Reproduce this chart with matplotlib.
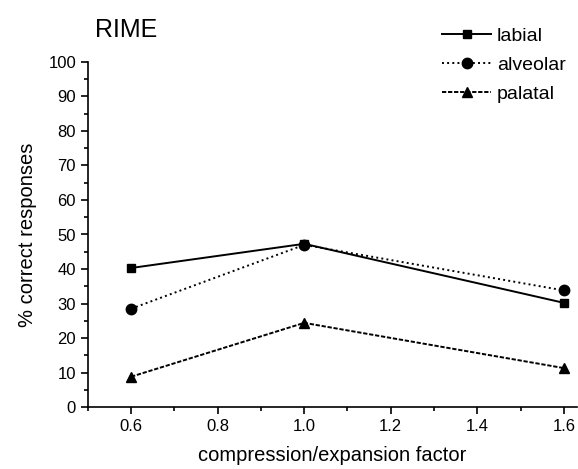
import matplotlib
matplotlib.use("Agg")
import matplotlib.pyplot as plt
from matplotlib.ticker import MultipleLocator

factors = [0.6, 1.0, 1.6]
labial = [40.3, 47.3, 30.2]
alveolar = [28.5, 47.0, 33.8]
palatal = [8.8, 24.4, 11.3]

plt.rcParams['font.family'] = ['Liberation Sans', 'DejaVu Sans']

fig = plt.figure(figsize=(5.78, 4.69), dpi=100)
ax = fig.add_axes([0.152, 0.132, 0.846, 0.736])

ax.plot(factors, labial, '-', color='black', marker='s', markersize=6, lw=1.4, label='labial')
ax.plot(factors, alveolar, ':', color='black', marker='o', markersize=7.5, lw=1.4, label='alveolar')
ax.plot(factors, palatal, '--', color='black', marker='^', markersize=7.5, lw=1.4, dashes=(2.2, 0.9), label='palatal')

ax.set_xlim(0.5, 1.63)
ax.set_ylim(0, 100)
ax.xaxis.set_minor_locator(MultipleLocator(0.1))
ax.yaxis.set_major_locator(MultipleLocator(10))
ax.yaxis.set_minor_locator(MultipleLocator(5))
ax.set_xticks([0.6, 0.8, 1.0, 1.2, 1.4, 1.6])
ax.set_xticklabels(['0.6', '0.8', '1.0', '1.2', '1.4', '1.6'])
for s in ['top', 'right']:
    ax.spines[s].set_visible(False)
for s in ['left', 'bottom']:
    ax.spines[s].set_linewidth(1.2)
ax.tick_params(which='major', direction='out', length=5, width=1.2, labelsize=12)
ax.tick_params(which='minor', direction='out', length=3, width=1.2)
ax.set_xlabel('compression/expansion factor', fontsize=14.5, labelpad=9)
ax.set_ylabel('% correct responses', fontsize=14.5, labelpad=8)

fig.text(0.165, 0.935, 'RIME', fontsize=18, ha='left', va='center')

leg = ax.legend(loc='upper right', bbox_to_anchor=(1.013, 1.152), frameon=False, fontsize=14,
                handlelength=2.5, handletextpad=0.3, labelspacing=0.6)

fig.savefig('out.png', dpi=100)
